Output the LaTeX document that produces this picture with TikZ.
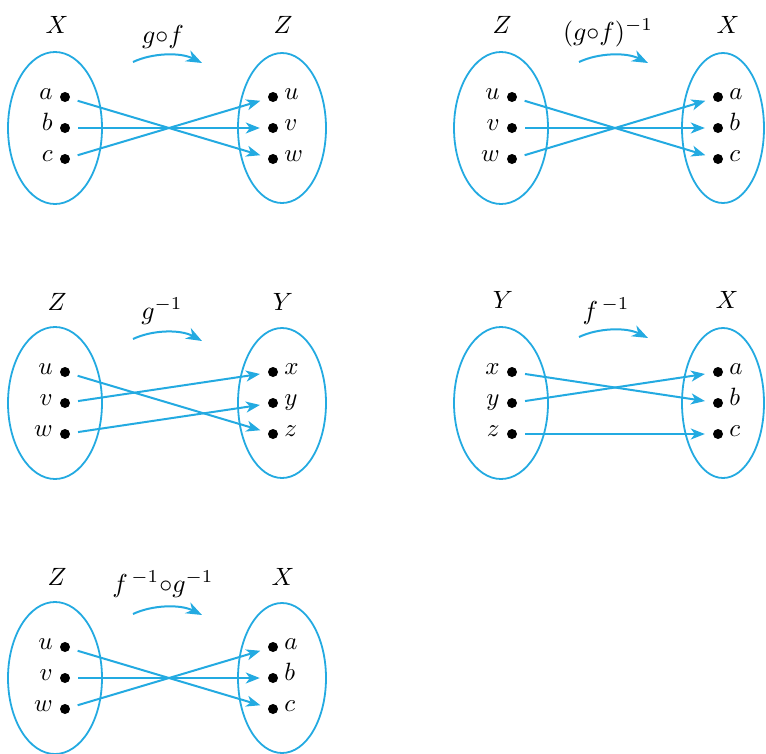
\documentclass[tikz,border=0pt]{standalone}
\usetikzlibrary{arrows.meta,shapes.geometric}
\definecolor{mapblue}{RGB}{35,170,225}
\newcommand{\Lset}[1]{\scalebox{2.5}{$#1$}}
\newcommand{\Lel}[1]{\scalebox{2.5}{$#1$}}
\newcommand{\Lmap}[1]{\scalebox{2.6}{$#1$}}
\tikzset{
  setell/.style={draw=mapblue,line width=1.8pt,ellipse,inner sep=0pt,minimum width=94pt,minimum height=152pt},
  setelr/.style={draw=mapblue,line width=1.8pt,ellipse,inner sep=0pt,minimum width=88pt,minimum height=150pt},
  dot/.style={circle,fill=black,inner sep=0pt,minimum size=10pt},
  ellab/.style={inner sep=0pt},
  setlab/.style={inner sep=0pt,anchor=base},
  maplab/.style={inner sep=0pt,anchor=base},
  maparrow/.style={draw=mapblue,line width=2pt,shorten <=8pt,shorten >=8pt,-{Stealth[length=14pt,width=11pt,inset=4pt]}},
  curvearrow/.style={draw=mapblue,line width=2pt,-{Stealth[length=16pt,width=12pt,inset=5pt]}}
}
\begin{document}
\begin{tikzpicture}[x=1pt,y=-1pt]
\useasboundingbox (0,0) rectangle (766,753);

% ---------- Panel 1: g o f ----------
\begin{scope}
\node[setell] (p1L) at (55,128) {};
\node[setelr] (p1R) at (282,128) {};
\node[setlab] (p1X) at (57,33) {\Lset{X}};
\node[setlab] (p1Z) at (283,33) {\Lset{Z}};
\node[maplab] (p1m) at (163,43) {\Lmap{g{\circ}f}};
\coordinate (p1s) at (133,62);
\coordinate (p1e) at (202,63);
\draw[curvearrow] (p1s) .. controls (152,53) and (180,52) .. (p1e);
\node[dot] (p1a) at (65,97) {};
\node[dot] (p1b) at (65,128) {};
\node[dot] (p1c) at (65,159) {};
\node[dot] (p1u) at (273,97) {};
\node[dot] (p1v) at (273,128) {};
\node[dot] (p1w) at (273,159) {};
\node[ellab,anchor=mid east] (p1la) at ([xshift=-7pt]p1a.west) {\Lel{a}};
\node[ellab,anchor=mid east] (p1lb) at ([xshift=-7pt]p1b.west) {\Lel{b}};
\node[ellab,anchor=mid east] (p1lc) at ([xshift=-7pt]p1c.west) {\Lel{c}};
\node[ellab,anchor=mid west] (p1lu) at ([xshift=6pt]p1u.east) {\Lel{u}};
\node[ellab,anchor=mid west] (p1lv) at ([xshift=6pt]p1v.east) {\Lel{v}};
\node[ellab,anchor=mid west] (p1lw) at ([xshift=6pt]p1w.east) {\Lel{w}};
\draw[maparrow] (p1a) -- (p1w);
\draw[maparrow] (p1b) -- (p1v);
\draw[maparrow] (p1c) -- (p1u);
\end{scope}

% ---------- Panel 2: (g o f)^{-1} ----------
\begin{scope}[shift={(446,0)}]
\node[setell] (p2L) at (55,128) {};
\node[setelr,minimum width=82pt] (p2R) at (277,128) {};
\node[setlab] (p2Z) at (56,33) {\Lset{Z}};
\node[setlab] (p2X) at (282,33) {\Lset{X}};
\node[maplab] (p2m) at (162,40) {\Lmap{(g{\circ}f)^{-1}}};
\coordinate (p2s) at (133,62);
\coordinate (p2e) at (202,63);
\draw[curvearrow] (p2s) .. controls (152,53) and (180,52) .. (p2e);
\node[dot] (p2u) at (66,97) {};
\node[dot] (p2v) at (66,128) {};
\node[dot] (p2w) at (66,159) {};
\node[dot] (p2a) at (272,97) {};
\node[dot] (p2b) at (272,128) {};
\node[dot] (p2c) at (272,159) {};
\node[ellab,anchor=mid east] (p2lu) at ([xshift=-7pt]p2u.west) {\Lel{u}};
\node[ellab,anchor=mid east] (p2lv) at ([xshift=-7pt]p2v.west) {\Lel{v}};
\node[ellab,anchor=mid east] (p2lw) at ([xshift=-7pt]p2w.west) {\Lel{w}};
\node[ellab,anchor=mid west] (p2la) at ([xshift=6pt]p2a.east) {\Lel{a}};
\node[ellab,anchor=mid west] (p2lb) at ([xshift=6pt]p2b.east) {\Lel{b}};
\node[ellab,anchor=mid west] (p2lc) at ([xshift=6pt]p2c.east) {\Lel{c}};
\draw[maparrow] (p2u) -- (p2c);
\draw[maparrow] (p2v) -- (p2b);
\draw[maparrow] (p2w) -- (p2a);
\end{scope}

% ---------- Panel 3: g^{-1} ----------
\begin{scope}[shift={(0,275)}]
\node[setell] (p3L) at (55,128) {};
\node[setelr] (p3R) at (282,128) {};
\node[setlab] (p3Z) at (57,35) {\Lset{Z}};
\node[setlab] (p3Y) at (283,35) {\Lset{Y}};
\node[maplab] (p3m) at (162,44) {\Lmap{g^{-1}}};
\coordinate (p3s) at (133,64);
\coordinate (p3e) at (202,66);
\draw[curvearrow] (p3s) .. controls (152,55) and (180,54) .. (p3e);
\node[dot] (p3u) at (65,97) {};
\node[dot] (p3v) at (65,128) {};
\node[dot] (p3w) at (65,159) {};
\node[dot] (p3x) at (273,97) {};
\node[dot] (p3y) at (273,128) {};
\node[dot] (p3z) at (273,159) {};
\node[ellab,anchor=mid east] (p3lu) at ([xshift=-7pt]p3u.west) {\Lel{u}};
\node[ellab,anchor=mid east] (p3lv) at ([xshift=-7pt]p3v.west) {\Lel{v}};
\node[ellab,anchor=mid east] (p3lw) at ([xshift=-7pt]p3w.west) {\Lel{w}};
\node[ellab,anchor=mid west] (p3lx) at ([xshift=6pt]p3x.east) {\Lel{x}};
\node[ellab,anchor=mid west] (p3ly) at ([xshift=6pt]p3y.east) {\Lel{y}};
\node[ellab,anchor=mid west] (p3lz) at ([xshift=6pt]p3z.east) {\Lel{z}};
\draw[maparrow] (p3u) -- (p3z);
\draw[maparrow] (p3v) -- (p3x);
\draw[maparrow] (p3w) -- (p3y);
\end{scope}

% ---------- Panel 4: f^{-1} ----------
\begin{scope}[shift={(446,275)}]
\node[setell] (p4L) at (55,128) {};
\node[setelr,minimum width=82pt] (p4R) at (277,128) {};
\node[setlab] (p4Y) at (57,33) {\Lset{Y}};
\node[setlab] (p4X) at (281,33) {\Lset{X}};
\node[maplab] (p4m) at (160,44) {\Lmap{f^{\,-1}}};
\coordinate (p4s) at (133,62);
\coordinate (p4e) at (202,63);
\draw[curvearrow] (p4s) .. controls (152,53) and (180,52) .. (p4e);
\node[dot] (p4x) at (66,97) {};
\node[dot] (p4y) at (66,128) {};
\node[dot] (p4z) at (66,159) {};
\node[dot] (p4a) at (272,97) {};
\node[dot] (p4b) at (272,128) {};
\node[dot] (p4c) at (272,159) {};
\node[ellab,anchor=mid east] (p4lx) at ([xshift=-7pt]p4x.west) {\Lel{x}};
\node[ellab,anchor=mid east] (p4ly) at ([xshift=-7pt]p4y.west) {\Lel{y}};
\node[ellab,anchor=mid east] (p4lz) at ([xshift=-7pt]p4z.west) {\Lel{z}};
\node[ellab,anchor=mid west] (p4la) at ([xshift=6pt]p4a.east) {\Lel{a}};
\node[ellab,anchor=mid west] (p4lb) at ([xshift=6pt]p4b.east) {\Lel{b}};
\node[ellab,anchor=mid west] (p4lc) at ([xshift=6pt]p4c.east) {\Lel{c}};
\draw[maparrow] (p4x) -- (p4b);
\draw[maparrow] (p4y) -- (p4a);
\draw[maparrow] (p4z) -- (p4c);
\end{scope}

% ---------- Panel 5: f^{-1} o g^{-1} ----------
\begin{scope}[shift={(0,550)}]
\node[setell] (p5L) at (55,128) {};
\node[setelr] (p5R) at (282,128) {};
\node[setlab] (p5Z) at (57,35) {\Lset{Z}};
\node[setlab] (p5X) at (283,35) {\Lset{X}};
\node[maplab] (p5m) at (163,42) {\Lmap{f^{\,-1}{\circ}g^{-1}}};
\coordinate (p5s) at (133,64);
\coordinate (p5e) at (202,65);
\draw[curvearrow] (p5s) .. controls (152,55) and (180,54) .. (p5e);
\node[dot] (p5u) at (65,97) {};
\node[dot] (p5v) at (65,128) {};
\node[dot] (p5w) at (65,159) {};
\node[dot] (p5a) at (273,97) {};
\node[dot] (p5b) at (273,128) {};
\node[dot] (p5c) at (273,159) {};
\node[ellab,anchor=mid east] (p5lu) at ([xshift=-7pt]p5u.west) {\Lel{u}};
\node[ellab,anchor=mid east] (p5lv) at ([xshift=-7pt]p5v.west) {\Lel{v}};
\node[ellab,anchor=mid east] (p5lw) at ([xshift=-7pt]p5w.west) {\Lel{w}};
\node[ellab,anchor=mid west] (p5la) at ([xshift=6pt]p5a.east) {\Lel{a}};
\node[ellab,anchor=mid west] (p5lb) at ([xshift=6pt]p5b.east) {\Lel{b}};
\node[ellab,anchor=mid west] (p5lc) at ([xshift=6pt]p5c.east) {\Lel{c}};
\draw[maparrow] (p5u) -- (p5c);
\draw[maparrow] (p5v) -- (p5b);
\draw[maparrow] (p5w) -- (p5a);
\end{scope}
\end{tikzpicture}
\end{document}
